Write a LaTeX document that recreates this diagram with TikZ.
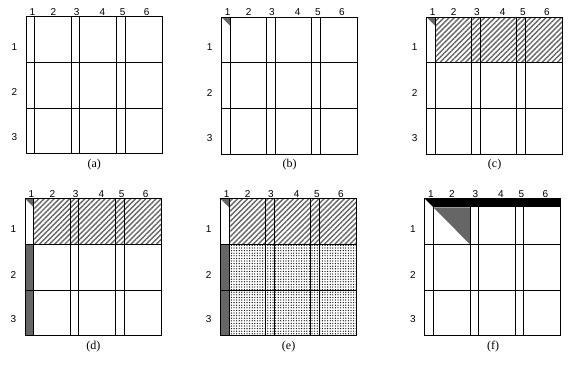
\documentclass[tikz,border=0pt]{standalone}
\usepackage{fontspec}
\setmainfont{Liberation Serif}
\newfontfamily\numfont{Liberation Sans}
\usetikzlibrary{patterns.meta}
\tikzset{
  gridline/.style={line width=1pt, black, line cap=rect},
  numlabel/.style={font=\numfont\fontsize{10}{11}\selectfont, inner sep=0pt},
  caplabel/.style={font=\fontsize{12}{13}\selectfont, inner sep=0pt},
  cornertri/.style={fill=black!60},
  blacktri/.style={fill=black},
  hatchfill/.style={pattern={Lines[angle=45,distance=3.6pt,line width=1.4pt]}, pattern color=black!60},
  dotfill/.style={pattern={Dots[radius=0.65pt,distance=2.6pt]}, pattern color=black},
  sidefill/.style={fill=black!60},
}
\newcommand{\panelgrid}[2]{%
  \foreach \x in {0,8.7,45.3,53.7,90.3,99,136} \draw[gridline] (\x,0) -- (\x,137);
  \foreach \y in {0,45.7,91.3,137} \draw[gridline] (0,\y) -- (136,\y);
  \foreach \t/\x in {1/6.3,2/27.3,3/50.7,4/76.3,5/96.7,6/120.7} \node[numlabel] (#1col\t) at (\x,-4.7) {\t};
  \foreach \t/\y in {1/30,2/75.8,3/120.8} \node[numlabel] (#1row\t) at (-11.7,\y) {\t};
  \node[caplabel] (#1cap) at (68.3,147.5) {(#2)};
}
\begin{document}
\begin{tikzpicture}[x=1pt,y=-1pt]
\useasboundingbox (0,0) rectangle (569,365);
% (a)
\begin{scope}[shift={(26,16.7)}]
  \panelgrid{pa}{a}
\end{scope}
% (b)
\begin{scope}[shift={(221.3,17)}]
  \fill[cornertri] (0,0) -- (8.7,0) -- (8.7,8.7) -- cycle;
  \panelgrid{pb}{b}
\end{scope}
% (c)
\begin{scope}[shift={(426.3,17)}]
  \fill[cornertri] (0,0) -- (8.7,0) -- (8.7,8.7) -- cycle;
  \fill[hatchfill] (8.7,0) rectangle (136,45.7);
  \panelgrid{pc}{c}
\end{scope}
% (d)
\begin{scope}[shift={(25,198.7)}]
  \fill[cornertri] (0,0) -- (8.7,0) -- (8.7,8.7) -- cycle;
  \fill[hatchfill] (8.7,0) rectangle (136,45.7);
  \fill[sidefill] (0,45.7) rectangle (8.7,137);
  \panelgrid{pd}{d}
\end{scope}
% (e)
\begin{scope}[shift={(220.3,198.7)}]
  \fill[cornertri] (0,0) -- (8.7,0) -- (8.7,8.7) -- cycle;
  \fill[hatchfill] (8.7,0) rectangle (136,45.7);
  \fill[sidefill] (0,45.7) rectangle (8.7,137);
  \fill[dotfill] (8.7,45.7) rectangle (136,137);
  \panelgrid{pe}{e}
\end{scope}
% (f)
\begin{scope}[shift={(424.7,198.7)}]
  \fill[blacktri] (0,0) -- (8.7,0) -- (8.7,8.7) -- cycle;
  \fill[black] (8.7,0) rectangle (136,8.7);
  \fill[cornertri] (8.7,8.7) -- (45.3,8.7) -- (45.3,45.7) -- cycle;
  \panelgrid{pf}{f}
\end{scope}
\end{tikzpicture}
\end{document}
